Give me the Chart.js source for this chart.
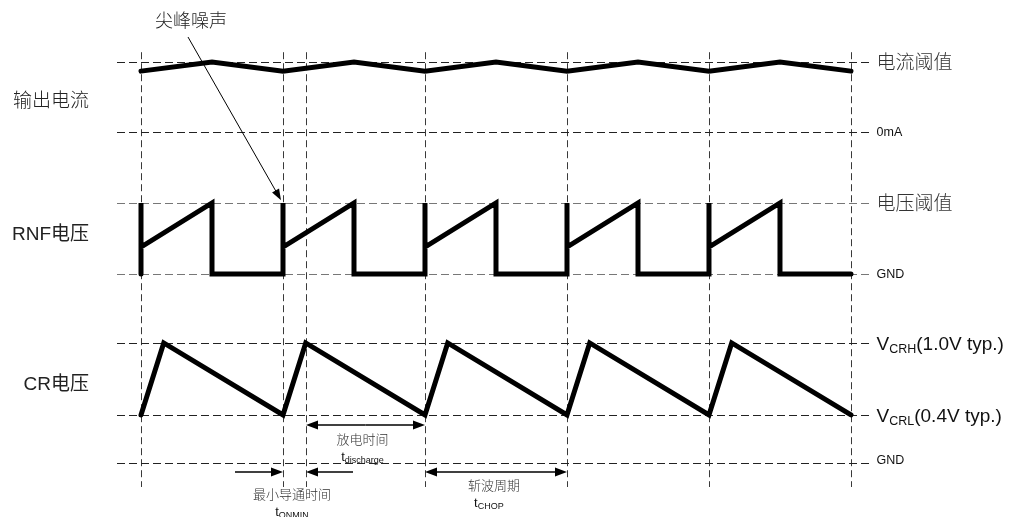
<!DOCTYPE html>
<html lang="zh">
<head>
<meta charset="utf-8">
<title>输出电流 / RNF电压 / CR电压</title>
<script src="https://cdn.jsdelivr.net/npm/chart.js@4.4.1/dist/chart.umd.min.js"></script>
<style>
  html, body { margin:0; padding:0; background:#fff; }
  #zone { width:1013px; height:517px; }
</style>
</head>
<body>
<div id="zone"><canvas id="graphique" width="1013" height="517"></canvas></div>
<script>
// temps : 1 = une période de hachage (tCHOP)
const reperesTemps = [0, 1, 1.16, 2, 3, 4, 5];

// courant de sortie (1 = 电流阈值, 0 = 0mA)
const courantT = [0, 0.5, 1, 1.5, 2, 2.5, 3, 3.5, 4, 4.5, 5];
const courantV = [0.87, 1, 0.87, 1, 0.87, 1, 0.87, 1, 0.87, 1, 0.87];

// tension RNF (1 = 电压阈值, 0 = GND)
const rnfT = [0, 0, 0, 0.5, 0.5, 1, 1, 1, 1.5, 1.5, 2, 2, 2, 2.5, 2.5, 3, 3, 3, 3.5, 3.5, 4, 4, 4, 4.5, 4.5, 5];
const rnfV = [0, 1, 0.38, 1, 0, 0, 1, 0.38, 1, 0, 0, 1, 0.38, 1, 0, 0, 1, 0.38, 1, 0, 0, 1, 0.38, 1, 0, 0];

// tension CR en volts
const crT = [0, 0.16, 1, 1.16, 2, 2.16, 3, 3.16, 4, 4.16, 5];
const crV = [0.4, 1.0, 0.4, 1.0, 0.4, 1.0, 0.4, 1.0, 0.4, 1.0, 0.4];

// niveaux de référence
const niveauxCourant = [1, 0];
const etiquettesCourant = ["电流阈值", "0mA"];
const niveauxRnf = [1, 0];
const etiquettesRnf = ["电压阈值", "GND"];
const niveauxCr = [1.0, 0.4, 0];
const etiquettesCr = [["V", "CRH", "(1.0V typ.)"], ["V", "CRL", "(0.4V typ.)"], ["GND", "", ""]];

const LATIN = '"Liberation Sans", Arial, "Noto Sans CJK SC", sans-serif';
const CJK = '"Noto Sans CJK SC", sans-serif';

function points(ts, vs){
  return ts.map((t, i) => ({ x: t, y: vs[i] }));
}

function ecrireIndice(ctx, x, y, base, indice, suite, taille, tailleIndice, align){
  ctx.font = taille + "px " + LATIN;
  const l1 = ctx.measureText(base).width;
  const l3 = ctx.measureText(suite).width;
  ctx.font = tailleIndice + "px " + LATIN;
  const l2 = ctx.measureText(indice).width;
  let x0 = x;
  if (align === "center") x0 = x - (l1 + l2 + l3) / 2;
  ctx.textAlign = "left";
  ctx.textBaseline = "alphabetic";
  ctx.font = taille + "px " + LATIN;
  ctx.fillText(base, x0, y);
  ctx.font = tailleIndice + "px " + LATIN;
  ctx.fillText(indice, x0 + l1, y + taille * 0.16);
  ctx.font = taille + "px " + LATIN;
  ctx.fillText(suite, x0 + l1 + l2, y);
}

function fleche(ctx, x1, y1, x2, y2, long, demi){
  const a = Math.atan2(y2 - y1, x2 - x1);
  ctx.beginPath();
  ctx.moveTo(x1, y1);
  ctx.lineTo(x2 - Math.cos(a) * long * 0.8, y2 - Math.sin(a) * long * 0.8);
  ctx.stroke();
  ctx.beginPath();
  ctx.moveTo(x2, y2);
  ctx.lineTo(x2 - Math.cos(a) * long - Math.sin(a) * demi, y2 - Math.sin(a) * long + Math.cos(a) * demi);
  ctx.lineTo(x2 - Math.cos(a) * long + Math.sin(a) * demi, y2 - Math.sin(a) * long - Math.cos(a) * demi);
  ctx.closePath();
  ctx.fill();
}

function flecheDouble(ctx, x1, x2, y){
  const m = (x1 + x2) / 2;
  fleche(ctx, m, y, x1, y, 12, 4.5);
  fleche(ctx, m, y, x2, y, 12, 4.5);
}

const decor = {
  id: "decor",
  beforeDatasetsDraw(chart){
    const { ctx, scales } = chart;
    const { x, yI, yR, yC } = scales;
    ctx.save();
    ctx.lineWidth = 1;

    // repères verticaux
    ctx.strokeStyle = "#3a3a3a";
    ctx.setLineDash([7, 4]);
    reperesTemps.forEach(t => {
      const px = Math.round(x.getPixelForValue(t)) + 0.5;
      ctx.beginPath();
      ctx.moveTo(px, yI.getPixelForValue(1.14));
      ctx.lineTo(px, yC.getPixelForValue(-0.2));
      ctx.stroke();
    });

    // niveaux horizontaux
    const x1 = x.getPixelForValue(-0.169);
    const x2 = x.getPixelForValue(5.155);
    const horiz = (echelle, v, couleur) => {
      const py = Math.round(echelle.getPixelForValue(v)) + 0.5;
      ctx.strokeStyle = couleur;
      ctx.beginPath();
      ctx.moveTo(x1, py);
      ctx.lineTo(x2, py);
      ctx.stroke();
    };
    ctx.setLineDash([8, 4]);
    niveauxCourant.forEach(v => horiz(yI, v, "#222"));
    niveauxRnf.forEach(v => horiz(yR, v, "#777"));
    niveauxCr.forEach(v => horiz(yC, v, "#222"));
    ctx.restore();
  },
  afterDatasetsDraw(chart){
    const { ctx, scales } = chart;
    const { x, yI, yR, yC } = scales;
    ctx.save();
    const xd = x.getPixelForValue(5.18);

    // étiquettes de droite
    ctx.fillStyle = "#333";
    ctx.textAlign = "left";
    ctx.textBaseline = "middle";
    const droite = (echelle, v, txt) => {
      const py = echelle.getPixelForValue(v);
      if (/^[0-9A-Za-z]+$/.test(txt)) {
        ctx.font = "12.5px " + LATIN;
        ctx.fillStyle = "#111";
        ctx.fillText(txt, xd, py + 1);
      } else {
        ctx.font = "300 19px " + CJK;
        ctx.fillStyle = "#333";
        ctx.fillText(txt, xd, py);
      }
    };
    niveauxCourant.forEach((v, i) => droite(yI, v, etiquettesCourant[i]));
    niveauxRnf.forEach((v, i) => droite(yR, v, etiquettesRnf[i]));
    niveauxCr.forEach((v, i) => {
      const e = etiquettesCr[i];
      if (!e[1]) { droite(yC, v, e[0]); return; }
      ctx.fillStyle = "#111";
      ecrireIndice(ctx, xd, yC.getPixelForValue(v) + 7, e[0], e[1], e[2], 19, 12.5, "left");
    });

    // étiquettes de gauche
    ctx.textAlign = "right";
    ctx.textBaseline = "middle";
    ctx.fillStyle = "#222";
    const xg = x.getPixelForValue(-0.366);
    ctx.font = "300 19px " + CJK;
    ctx.fillText("输出电流", xg, yI.getPixelForValue(0.457));
    ctx.font = "19px " + LATIN;
    ctx.fillText("RNF电压", xg, yR.getPixelForValue(0.55));
    ctx.fillText("CR电压", xg, yC.getPixelForValue(0.65));

    // bruit de pointe
    ctx.textAlign = "center";
    ctx.font = "300 18px " + CJK;
    ctx.fillText("尖峰噪声", x.getPixelForValue(0.352), yI.getPixelForValue(1.6));
    ctx.strokeStyle = "#000";
    ctx.fillStyle = "#000";
    ctx.lineWidth = 1;
    fleche(ctx, x.getPixelForValue(0.331), yI.getPixelForValue(1.357),
      x.getPixelForValue(0.986), yR.getPixelForValue(1.04), 11, 4);

    // cotes du bas
    ctx.lineWidth = 1.5;
    flecheDouble(ctx, x.getPixelForValue(1.162), x.getPixelForValue(2), yC.getPixelForValue(0.317));
    const yb = yC.getPixelForValue(-0.075);
    fleche(ctx, x.getPixelForValue(0.662), yb, x.getPixelForValue(1), yb, 12, 4.5);
    fleche(ctx, x.getPixelForValue(1.493), yb, x.getPixelForValue(1.162), yb, 12, 4.5);
    flecheDouble(ctx, x.getPixelForValue(2), x.getPixelForValue(3), yb);

    ctx.fillStyle = "#333";
    ctx.textBaseline = "middle";
    ctx.font = "300 13px " + CJK;
    ctx.fillText("放电时间", x.getPixelForValue(1.56), yC.getPixelForValue(0.2));
    ctx.fillText("最小导通时间", x.getPixelForValue(1.063), yC.getPixelForValue(-0.258));
    ctx.fillText("斩波周期", x.getPixelForValue(2.486), yC.getPixelForValue(-0.183));
    ctx.fillStyle = "#111";
    ecrireIndice(ctx, x.getPixelForValue(1.56), yC.getPixelForValue(0.05) + 4, "t", "discharge", "", 13, 9, "center");
    ecrireIndice(ctx, x.getPixelForValue(1.063), yC.getPixelForValue(-0.408) + 4, "t", "ONMIN", "", 13, 9, "center");
    ecrireIndice(ctx, x.getPixelForValue(2.45), yC.getPixelForValue(-0.333) + 4, "t", "CHOP", "", 13, 9, "center");
    ctx.restore();
  }
};

const trace = {
  borderColor: "#000",
  borderWidth: 5,
  pointRadius: 0,
  tension: 0,
  fill: false,
  clip: false,
  borderJoinStyle: "miter",
  borderCapStyle: "round"
};

const graphique = new Chart(document.getElementById("graphique").getContext("2d"), {
  type: "line",
  data: {
    datasets: [
      { ...trace, label: "输出电流", data: points(courantT, courantV), yAxisID: "yI" },
      { ...trace, label: "RNF电压", data: points(rnfT, rnfV), yAxisID: "yR" },
      { ...trace, label: "CR电压", data: points(crT, crV), yAxisID: "yC" }
    ]
  },
  options: {
    responsive: false,
    animation: false,
    events: [],
    layout: { padding: 0 },
    plugins: { legend: { display: false }, tooltip: { enabled: false } },
    scales: {
      x: { type: "linear", display: false, min: -0.993, max: 6.141 },
      yI: { type: "linear", display: false, position: "left", stack: "voies", stackWeight: 167, weight: 3, min: -0.5, max: 1.886 },
      yR: { type: "linear", display: false, position: "left", stack: "voies", stackWeight: 142, weight: 2, min: -0.493, max: 1.507 },
      yC: { type: "linear", display: false, position: "left", stack: "voies", stackWeight: 208, weight: 1, min: -0.45, max: 1.283 }
    }
  },
  plugins: [decor]
});
</script>
</body>
</html>
